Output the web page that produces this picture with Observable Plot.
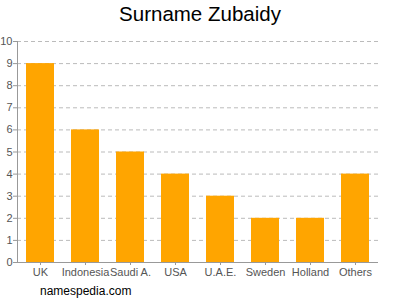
<!DOCTYPE html>
<html>
<head>
<meta charset="utf-8">
<script src="https://cdn.jsdelivr.net/npm/d3@7"></script>
<script src="https://cdn.jsdelivr.net/npm/@observablehq/plot@0.6"></script>
<style>
  html, body { margin: 0; padding: 0; background: #fff; width: 400px; height: 300px; overflow: hidden; }
  #title { position: absolute; left: 0; top: 2px; width: 400px; text-align: center; font-family: "Liberation Sans", Arial, sans-serif; font-size: 20.5px; color: #000; }
  #chart { position: absolute; left: 0; top: 30px; }
  #caption { position: absolute; left: 40px; top: 284px; font-family: "Liberation Sans", Arial, sans-serif; font-size: 12px; color: #000; }
</style>
</head>
<body>
<div id="title">Surname Zubaidy</div>
<div id="chart"></div>
<div id="caption">namespedia.com</div>
<script>
const categories = ["UK", "Indonesia", "Saudi A.", "USA", "U.A.E.", "Sweden", "Holland", "Others"];
const counts = [9, 6, 5, 4, 3, 2, 2, 4];
const yTicks = [0, 1, 2, 3, 4, 5, 6, 7, 8, 9, 10];

const data = categories.map((c, i) => ({category: c, count: counts[i]}));

const chart = Plot.plot({
  width: 400,
  height: 252,
  marginTop: 11,
  marginBottom: 20,
  marginLeft: 17,
  marginRight: 22,
  style: {fontFamily: "Liberation Sans, Arial, sans-serif", fontSize: "11px", color: "#555", background: "#fff"},
  x: {domain: categories, paddingInner: 0.37, paddingOuter: 0.12, label: null},
  y: {domain: [0, 10], label: null},
  marks: [
    Plot.gridY(yTicks.filter(d => d > 0), {stroke: "#bbb", strokeOpacity: 1, strokeDasharray: "4,3"}),
    Plot.barY(data, {x: "category", y: "count", fill: "#FFA500"}),
    Plot.ruleY([0], {stroke: "#999"}),
    Plot.frame({anchor: "left", stroke: "#999"}),
    Plot.axisY(yTicks, {tickSize: 4, tickPadding: 1, stroke: "#999", fill: "#555", fontSize: 11}),
    Plot.axisX({tickSize: 3, tickPadding: 3, stroke: "#999", fill: "#555", fontSize: 11})
  ]
});
document.getElementById("chart").appendChild(chart);
</script>
</body>
</html>
